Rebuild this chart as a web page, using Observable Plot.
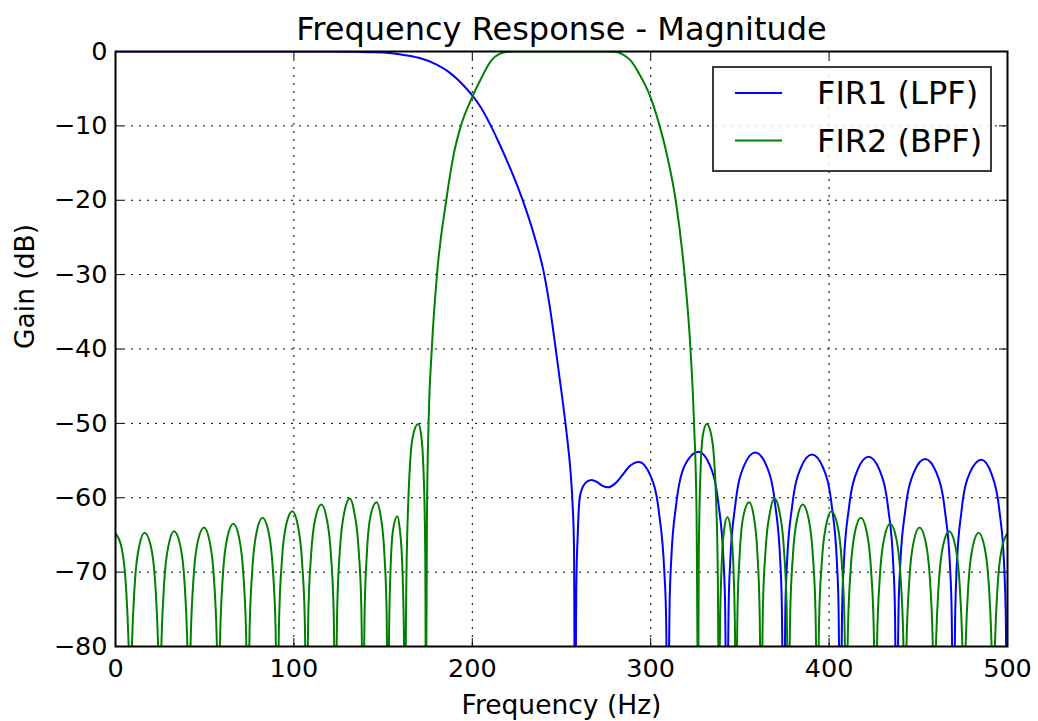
<!DOCTYPE html>
<html>
<head>
<meta charset="utf-8">
<script src="https://cdn.jsdelivr.net/npm/d3@7"></script>
<script src="https://cdn.jsdelivr.net/npm/@observablehq/plot@0.6"></script>
<style>
  html, body { margin: 0; padding: 0; background: white; }
  #chart { width: 1038px; height: 721px; }
</style>
</head>
<body>
<div id="chart"></div>
<script>
// ---- Data ----
const chartTitle = "Frequency Response - Magnitude";
const xLabel = "Frequency (Hz)";
const yLabel = "Gain (dB)";
const seriesNames = ["FIR1 (LPF)", "FIR2 (BPF)"];
const seriesColors = ["#0000ff", "#008000"];
const xTicks = [0, 100, 200, 300, 400, 500];
const yTicks = [0, -10, -20, -30, -40, -50, -60, -70, -80];

// FIR1 low-pass: [frequency Hz, gain dB]
const lpfPoints = [
  [0,0],[120,0],[135,-0.05],[145,-0.1],[150,-0.15],[160,-0.4],[170,-0.85],[180,-1.75],
  [186,-2.6],[191.5,-3.7],[196,-4.8],[200,-5.9],[205,-7.6],[210,-9.8],[215,-12.3],
  [220,-15],[225,-17.9],[230,-21.2],[235,-25],[240,-29.6],[243.5,-34.4],[246.6,-39.7],
  [250,-45.8],[253.1,-51.8],[255,-56.3],[256.2,-60.8],[257,-66.5],
  [257.6,-95],[258.3,-72],[259.1,-65],[260.2,-60],[262,-58.5],[264.5,-57.8],[266.9,-57.6],
  [270,-57.9],[273,-58.4],[276.2,-58.6],[280,-58.1],[284,-57],[288,-55.8],[293.4,-55.2],
  [299.8,-57],[304.7,-62.1],[307.6,-69.8],[308.6,-75.7],[309.6,-95],
  [310.6,-74.3],[311.5,-68.4],[314.4,-60.7],[319.2,-55.6],[326.8,-53.8],[333.1,-55.6],[337.9,-60.7],[340.8,-68.4],[341.7,-74.3],[342.7,-95],
  [343.7,-74.4],[344.6,-68.5],[347.5,-60.8],[352.3,-55.7],[358.6,-53.9],[364.9,-55.7],[369.7,-60.8],[372.6,-68.5],[373.5,-74.4],[374.5,-95],
  [375.5,-74.7],[376.4,-68.8],[379.3,-61.1],[384.1,-56],[390.4,-54.2],[396.7,-56],[401.5,-61.1],[404.4,-68.8],[405.3,-74.7],[406.3,-95],
  [407.3,-75],[408.2,-69.1],[411.1,-61.4],[415.9,-56.3],[422.1,-54.5],[428.3,-56.3],[433.1,-61.4],[436,-69.1],[436.9,-75],[437.9,-95],
  [438.9,-75.3],[439.8,-69.4],[442.7,-61.7],[447.5,-56.6],[453.8,-54.8],[460.1,-56.6],[464.9,-61.7],[467.8,-69.4],[468.7,-75.3],[469.7,-95],
  [470.7,-75.4],[471.5,-69.5],[474.2,-61.8],[478.8,-56.7],[485.4,-54.9],[490.9,-56.7],[495.5,-61.8],[498.2,-69.5],[499,-75.4],[500,-95]
];

// FIR2 band-pass: [frequency Hz, gain dB]
const bpfPoints = [
  [0,-64.8],[3.3,-66.6],[5.8,-71.7],[7.3,-79.4],[8.3,-90],
  [9.3,-79.3],[10.8,-71.6],[13.3,-66.5],[16.3,-64.7],[19.8,-66.5],[22.3,-71.6],[23.8,-79.3],[24.8,-90],
  [25.8,-79.1],[27.3,-71.4],[29.8,-66.3],[32.8,-64.5],[36.2,-66.3],[38.7,-71.4],[40.2,-79.1],[41.2,-90],
  [42.2,-78.6],[43.7,-70.9],[46.2,-65.8],[49.6,-64.0],[52.7,-65.8],[55.2,-70.9],[56.7,-78.6],[57.7,-90],
  [58.7,-78.1],[60.2,-70.4],[62.7,-65.3],[66.1,-63.5],[69.2,-65.3],[71.7,-70.4],[73.2,-78.1],[74.2,-90],
  [75.2,-77.3],[76.7,-69.6],[79.2,-64.5],[82.4,-62.7],[85.7,-64.5],[88.2,-69.6],[89.7,-77.3],[90.7,-90],
  [91.7,-76.4],[93.2,-68.7],[95.7,-63.6],[99.1,-61.8],[102.1,-63.6],[104.6,-68.7],[106.1,-76.4],[107.1,-90],
  [108.1,-75.5],[109.6,-67.8],[112.1,-62.7],[115.4,-60.9],[118.3,-62.7],[120.8,-67.8],[122.3,-75.5],[123.3,-90],
  [124.3,-74.7],[125.8,-67],[128.3,-61.9],[131.3,-60.1],[133.8,-61.9],[136.3,-67],[137.8,-74.7],[138.8,-90],
  [139.65,-75.2],[140.9,-67.5],[143,-62.4],[146.3,-60.6],[148.6,-62.4],[150.7,-67.5],[151.95,-75.2],[152.8,-90],
  [153.4,-77.1],[154.2,-69.4],[155.6,-64.3],[157.9,-62.5],[159.4,-64.3],[160.8,-69.4],[161.6,-77.1],[162.2,-90],
  [163.1,-70],[164.2,-60],[165.2,-55],[167.2,-51.2],[169.7,-50.1],[171.3,-51.5],[172.6,-56],[173.3,-62],[173.7,-70],[174,-90],
  [174.6,-62],[175.5,-50],[177.3,-40],[180.2,-30],[185.4,-20],[189.6,-13.8],[193.6,-10],[200.4,-5.9],
  [205,-3.6],[210.7,-1.2],[215,-0.35],[220,-0.05],[225,0],[275,0],
  [280,-0.05],[284,-0.35],[288.7,-1.2],[294,-3.2],[299.5,-5.9],[305,-10],[309.2,-14],[314,-20],
  [319,-30],[322.3,-40],[324.3,-50],[325.7,-62],[326.6,-90],
  [326.9,-70],[327.3,-62],[328,-56],[329.3,-51.5],[331.4,-50.1],[333.6,-51.2],[335.6,-55],[336.6,-60],[337.6,-70],[338.3,-90],
  [338.86,-77.2],[339.7,-69.5],[341.1,-64.4],[343,-62.6],[344.9,-64.4],[346.4,-69.5],[347.2,-77.2],[347.8,-90],
  [348.65,-75.2],[349.9,-67.5],[352,-62.4],[355.2,-60.6],[357.7,-62.4],[359.8,-67.5],[361.05,-75.2],[361.9,-90],
  [362.9,-74.7],[364.4,-67],[366.9,-61.9],[369.4,-60.1],[372.2,-61.9],[374.7,-67],[376.2,-74.7],[377.2,-90],
  [378.2,-75.5],[379.7,-67.8],[382.2,-62.7],[385.2,-60.9],[388.4,-62.7],[390.9,-67.8],[392.4,-75.5],[393.4,-90],
  [394.4,-76.4],[395.9,-68.7],[398.4,-63.6],[401.3,-61.8],[404.6,-63.6],[407.1,-68.7],[408.6,-76.4],[409.6,-90],
  [410.6,-77.3],[412.1,-69.6],[414.6,-64.5],[417.8,-62.7],[421,-64.5],[423.5,-69.6],[425,-77.3],[426,-90],
  [427,-78.1],[428.5,-70.4],[431,-65.3],[434.2,-63.5],[437.5,-65.3],[440,-70.4],[441.5,-78.1],[442.5,-90],
  [443.5,-78.6],[445,-70.9],[447.5,-65.8],[450.7,-64],[454,-65.8],[456.5,-70.9],[458,-78.6],[459,-90],
  [460,-79.1],[461.5,-71.4],[464,-66.3],[467.3,-64.5],[470.6,-66.3],[473.1,-71.4],[474.6,-79.1],[475.6,-90],
  [476.6,-79.3],[478.1,-71.6],[480.6,-66.5],[483.8,-64.7],[487,-66.5],[489.5,-71.6],[491,-79.3],[492,-90],
  [493,-79.4],[494.5,-71.7],[497,-66.6],[500,-64.8]
];

// ---- Build table ----
const rows = [
  ...lpfPoints.map(([f, g]) => ({f, g, s: seriesNames[0]})),
  ...bpfPoints.map(([f, g]) => ({f, g, s: seriesNames[1]}))
];

const W = 1038, H = 721;
const mL = 115, mR = 31, mT = 51, mB = 75;
const innerW = W - mL - mR, innerH = H - mT - mB;
const tickLen = 8;
const fmtY = d => d === 0 ? "0" : "\u2212" + Math.abs(d);

const chart = Plot.plot({
  width: W, height: H,
  marginLeft: mL, marginRight: mR, marginTop: mT, marginBottom: mB,
  style: {fontFamily: "'DejaVu Sans', sans-serif", background: "white", color: "black"},
  x: {domain: [0, 500]},
  y: {domain: [-80, 0]},
  color: {domain: seriesNames, range: seriesColors},
  marks: [
    Plot.gridX(xTicks, {stroke: "black", strokeOpacity: 1, strokeWidth: 1, strokeDasharray: "2,6"}),
    Plot.gridY(yTicks, {stroke: "black", strokeOpacity: 1, strokeWidth: 1, strokeDasharray: "2,6"}),
    Plot.line(rows, {x: "f", y: "g", z: "s", stroke: "s", strokeWidth: 2, curve: "monotone-x", clip: true}),
    Plot.ruleX(xTicks, {stroke: "black", strokeWidth: 1, insetTop: innerH - tickLen}),
    Plot.ruleX(xTicks, {stroke: "black", strokeWidth: 1, insetBottom: innerH - tickLen}),
    Plot.ruleY(yTicks, {stroke: "black", strokeWidth: 1, insetRight: innerW - tickLen}),
    Plot.ruleY(yTicks, {stroke: "black", strokeWidth: 1, insetLeft: innerW - tickLen}),
    Plot.axisX(xTicks, {tickSize: 0, tickPadding: 12, fontSize: 25.5, label: null}),
    Plot.axisY(yTicks, {tickSize: 0, tickPadding: 8, fontSize: 25.5, label: null, tickFormat: fmtY}),
    Plot.frame({stroke: "black", strokeWidth: 2}),
    Plot.text([chartTitle], {text: d => d, frameAnchor: "top", lineAnchor: "middle", dy: -22, fontSize: 32}),
    Plot.text([xLabel], {text: d => d, frameAnchor: "bottom", lineAnchor: "middle", dy: 59.5, fontSize: 26.5}),
    Plot.text([yLabel], {text: d => d, frameAnchor: "left", lineAnchor: "middle", rotate: -90, dx: -90, fontSize: 26.5})
  ]
});

document.getElementById("chart").appendChild(chart);

// ---- Legend (matplotlib-style box, upper right) ----
const svg = d3.select(chart);
const lg = svg.append("g")
  .attr("font-family", "'DejaVu Sans', sans-serif")
  .attr("text-anchor", "start");
lg.append("rect")
  .attr("x", 713).attr("y", 67).attr("width", 278).attr("height", 104)
  .attr("fill", "white").attr("fill-opacity", 0.85)
  .attr("stroke", "#3a3a3a").attr("stroke-width", 2);
seriesNames.forEach((name, i) => {
  const cy = 93 + i * 47.5;
  lg.append("line")
    .attr("x1", 735).attr("x2", 782).attr("y1", cy).attr("y2", cy)
    .attr("stroke", seriesColors[i]).attr("stroke-width", 2);
  lg.append("text")
    .attr("x", 817).attr("y", cy + 11)
    .attr("text-anchor", "start")
    .attr("font-size", 32).attr("fill", "black")
    .text(name);
});
</script>
</body>
</html>
